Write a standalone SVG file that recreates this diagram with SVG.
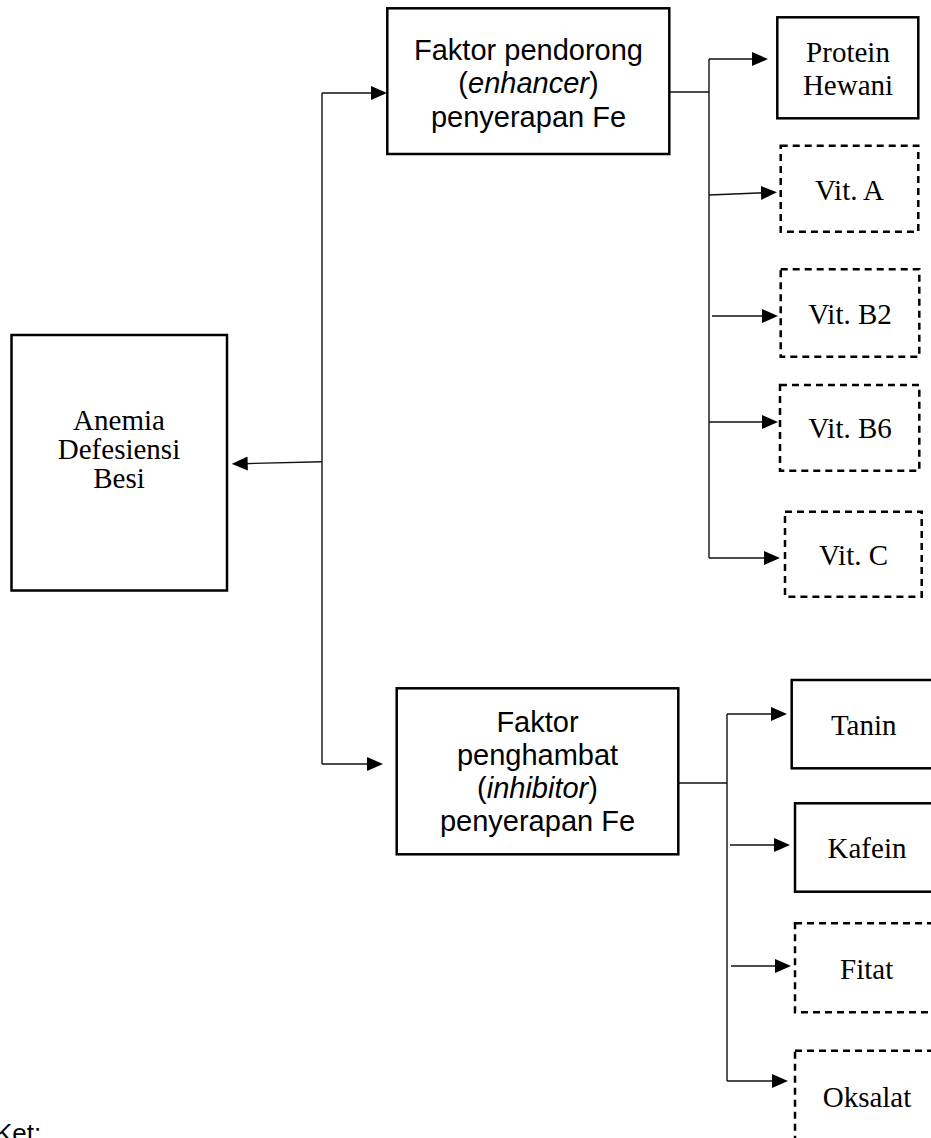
<svg xmlns="http://www.w3.org/2000/svg" width="931" height="1138" viewBox="0 0 931 1138">
  <style>
    .box { fill: #fff; stroke: #000; stroke-width: 2.5; }
    .dash { fill: #fff; stroke: #000; stroke-width: 2.5; stroke-dasharray: 7 5; }
    .conn { fill: none; stroke: #111; stroke-width: 1.4; }
    .arr { fill: none; stroke: #111; stroke-width: 1.4; marker-end: url(#ah); }
    .serif { font-family: "Liberation Serif", "Times New Roman", serif; font-size: 29px; fill: #000; text-anchor: middle; }
    .sans { font-family: "Liberation Sans", Arial, sans-serif; font-size: 29px; fill: #000; text-anchor: middle; }
  </style>
  <defs>
    <marker id="ah" markerUnits="userSpaceOnUse" markerWidth="16" markerHeight="14" refX="6" refY="7" orient="auto">
      <path d="M0,0 L16,7 L0,14 z" fill="#000"/>
    </marker>
  </defs>
  <rect width="931" height="1138" fill="#fff"/>

  <g id="connectors">
    <path class="conn" d="M322,93 V764"/>
    <path class="arr" d="M322,93 H377"/>
    <path class="arr" d="M322,764 H373"/>
    <path class="arr" d="M322,461.7 L241.7,463.7"/>
    <path class="conn" d="M669,92 H709"/>
    <path class="conn" d="M709,59 V558"/>
    <path class="arr" d="M709,59 H758"/>
    <path class="arr" d="M709,195 L767,192.7"/>
    <path class="arr" d="M712,316 H768"/>
    <path class="arr" d="M709,422 H768"/>
    <path class="arr" d="M709,558 H770"/>
    <path class="conn" d="M678,783 H727"/>
    <path class="conn" d="M727,714 V1081"/>
    <path class="arr" d="M727,714 H777"/>
    <path class="arr" d="M730,845 H780"/>
    <path class="arr" d="M731,966 H781"/>
    <path class="arr" d="M727,1081 H778"/>
  </g>

  <g id="anemia">
    <rect class="box" x="11.5" y="335" width="215.5" height="255.5"/>
    <text class="serif" x="119" y="430">Anemia</text>
    <text class="serif" x="119" y="459">Defesiensi</text>
    <text class="serif" x="119" y="488">Besi</text>
  </g>

  <g id="enhancer">
    <rect class="box" x="387.3" y="8.3" width="282" height="145.7"/>
    <text class="sans" x="528.5" y="59.5">Faktor pendorong</text>
    <text class="sans" x="528.5" y="93">(<tspan font-style="italic">enhancer</tspan>)</text>
    <text class="sans" x="528.5" y="126.5">penyerapan Fe</text>
  </g>

  <g id="protein-hewani">
    <rect class="box" x="777.3" y="17.3" width="141" height="101"/>
    <text class="serif" x="848" y="61.7">Protein</text>
    <text class="serif" x="848" y="95">Hewani</text>
  </g>

  <g id="vit-a">
    <rect class="dash" x="780.7" y="145.7" width="137.6" height="86"/>
    <text class="serif" x="849.5" y="200">Vit. A</text>
  </g>

  <g id="vit-b2">
    <rect class="dash" x="780.7" y="269.3" width="138.6" height="87.4"/>
    <text class="serif" x="850" y="324">Vit. B2</text>
  </g>

  <g id="vit-b6">
    <rect class="dash" x="780" y="385" width="139.3" height="85.7"/>
    <text class="serif" x="850" y="438">Vit. B6</text>
  </g>

  <g id="vit-c">
    <rect class="dash" x="785" y="511.7" width="136.7" height="85"/>
    <text class="serif" x="853.5" y="565">Vit. C</text>
  </g>

  <g id="inhibitor">
    <rect class="box" x="396.7" y="688.3" width="281.6" height="166"/>
    <text class="sans" x="537.5" y="731.7">Faktor</text>
    <text class="sans" x="537.5" y="764.5">penghambat</text>
    <text class="sans" x="537.5" y="797.5">(<tspan font-style="italic">inhibitor</tspan>)</text>
    <text class="sans" x="537.5" y="831">penyerapan Fe</text>
  </g>

  <g id="tanin">
    <rect class="box" x="791.7" y="680" width="160" height="88.3"/>
    <text class="serif" x="863.7" y="735">Tanin</text>
  </g>

  <g id="kafein">
    <rect class="box" x="795" y="803.3" width="160" height="88.4"/>
    <text class="serif" x="867" y="858.3">Kafein</text>
  </g>

  <g id="fitat">
    <rect class="dash" x="795" y="923.3" width="160" height="89"/>
    <text class="serif" x="866.7" y="979">Fitat</text>
  </g>

  <g id="oksalat">
    <rect class="dash" x="795" y="1050.7" width="160" height="120"/>
    <text class="serif" x="867" y="1106.7">Oksalat</text>
  </g>

  <g id="legend">
    <text x="-5" y="1142" font-family="'Liberation Sans', Arial, sans-serif" font-size="26" fill="#000">Ket:</text>
  </g>
</svg>
